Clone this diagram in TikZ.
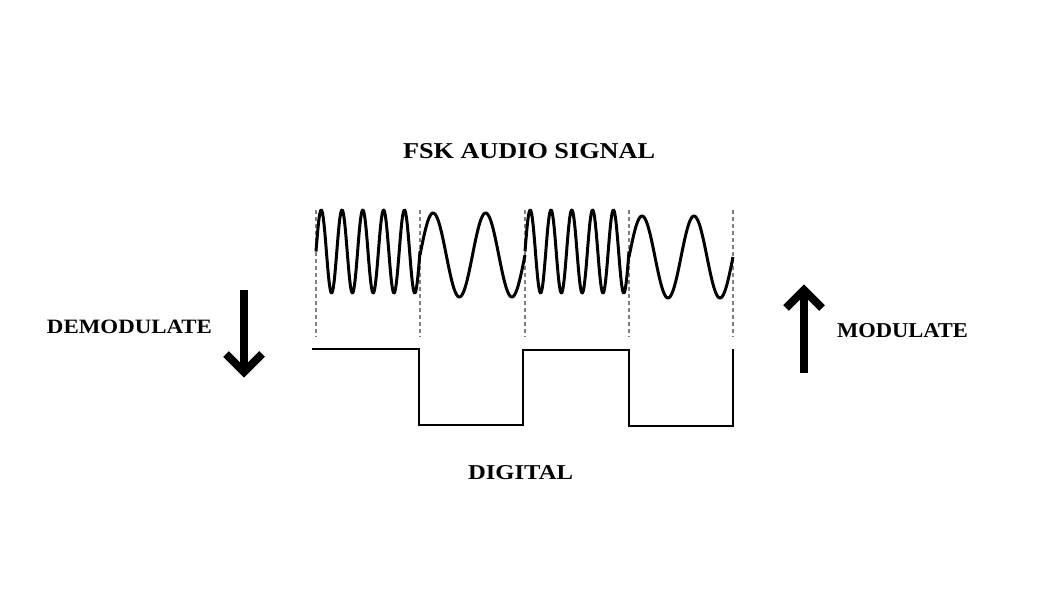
\documentclass[tikz,border=0pt]{standalone}
\usepackage{fontspec}
\usepackage{graphicx}
\setmainfont{Liberation Serif}
\tikzset{
  lbl/.style={inner sep=0pt, anchor=base, font=\bfseries},
  wave/.style={line width=3pt, line join=round, black},
  sq/.style={line width=2.8pt, line join=miter, black},
  guide/.style={line width=1.3pt, draw=black!50, dash pattern=on 4pt off 3pt},
  shaft/.style={line width=8pt, line cap=butt, black},
  barb/.style={line width=8pt, line join=miter, line cap=butt, black}
}
\begin{document}
\begin{tikzpicture}[x=1pt,y=-1pt]
\useasboundingbox[fill=white] (0,0) rectangle (1046,607);
% labels
\node[lbl] (fsk) at (529,158) {\resizebox{252pt}{15pt}{FSK AUDIO SIGNAL}};
\node[lbl] (dig) at (520.5,479) {\resizebox{105pt}{14pt}{DIGITAL}};
\node[lbl] (demod) at (129.5,333.5) {\resizebox{165pt}{13.5pt}{DEMODULATE}};
\node[lbl] (mod) at (902.5,337) {\resizebox{131pt}{14pt}{MODULATE}};
% guide lines
\foreach \gx in {316,420,525,629,733}
  \draw[guide] (\gx,210) -- (\gx,337);
% FSK waveform
\draw[wave] plot[domain=316:420, samples=220, smooth] (\x,{251.5-41.5*sin(17.3077*(\x-316))});
\draw[wave] plot[domain=420:525, samples=120, smooth] (\x,{255-42*sin(6.8571*(\x-420))});
\draw[wave] plot[domain=525:629, samples=220, smooth] (\x,{251.5-41.5*sin(17.3077*(\x-525))});
\draw[wave] plot[domain=629:733, samples=120, smooth] (\x,{257-41*sin(6.9231*(\x-629))});
% digital square wave
\coordinate (s0) at (312,349);
\draw[sq] (s0) -- (419,349) -- (419,425) -- (523,425) -- (523,350) -- (629,350) -- (629,426) -- (733,426) -- (733,349);
% demodulate arrow (down)
\coordinate (dtop) at (244,290);
\coordinate (dtip) at (244,372);
\draw[shaft] (dtop) -- (244,369);
\draw[barb] (226,354) -- (dtip) -- (262,354);
% modulate arrow (up)
\coordinate (ubot) at (804,373);
\coordinate (utip) at (804,290);
\draw[shaft] (ubot) -- (804,293);
\draw[barb] (786,308) -- (utip) -- (822,308);
\end{tikzpicture}
\end{document}
